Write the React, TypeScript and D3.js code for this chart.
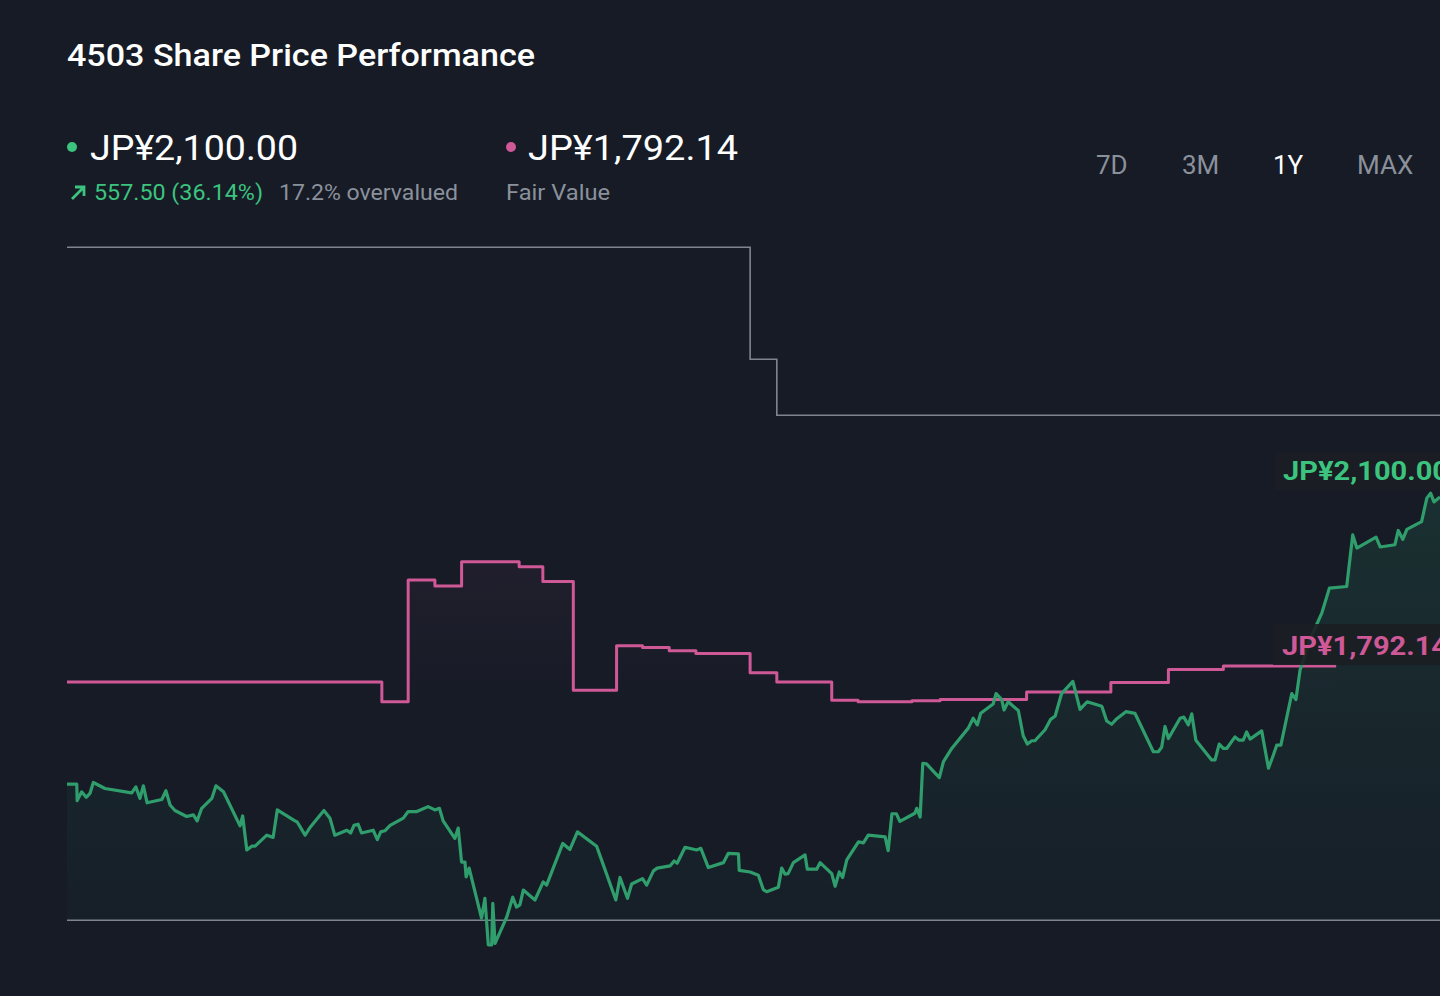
import { area, curveStepAfter, line, scaleLinear } from 'd3';

const width = 1440;
const height = 996;
const margin = { top: 222.5, right: 0, bottom: 59.8, left: 67 };

// day offsets within the 1Y window, and closing price (JP¥)
const priceDays = [
	0, 2.6, 2.7, 3.9, 5.1, 6.1, 7.0, 10.1, 17.2, 18.3,
	19.4, 20.3, 21.3, 25.2, 26.3, 27.4, 28.7, 31.8, 33.6, 34.6,
	35.8, 38.5, 39.6, 41.6, 46.0, 46.7, 47.8, 49.1, 50.0, 53.1,
	54.8, 55.9, 60.6, 61.2, 63.3, 64.6, 68.3, 69.9, 71.2, 74.4,
	75.4, 76.3, 77.4, 78.3, 81.4, 82.5, 83.4, 84.5, 85.9, 89.4,
	90.7, 93.0, 96.0, 97.8, 99.0, 100.0, 103.1, 104.0, 104.9, 105.8,
	106.1, 106.9, 110.2, 111.1, 112.0, 112.9, 113.2, 113.8, 116.9, 118.5,
	119.5, 120.4, 121.3, 124.4, 126.6, 127.5, 131.8, 133.7, 135.7, 140.8,
	142.1, 145.9, 147.0, 149.0, 150.1, 153.0, 154.1, 155.9, 156.9, 160.3,
	161.4, 162.2, 164.3, 167.4, 168.5, 170.5, 174.5, 175.8, 178.5, 178.7,
	181.6, 183.8, 185.1, 186.0, 189.1, 190.0, 190.9, 191.7, 193.1, 196.2,
	196.8, 199.3, 200.2, 203.3, 204.2, 205.3, 206.2, 207.3, 210.4, 211.7,
	213.0, 217.5, 218.3, 219.3, 220.5, 221.4, 225.4, 225.9, 226.8, 227.5,
	228.5, 231.9, 233.0, 235.2, 239.6, 240.9, 242.0, 242.9, 246.2, 247.0,
	248.5, 249.1, 250.2, 252.9, 254.2, 255.3, 256.5, 257.3, 260.0, 261.5,
	262.7, 264.4, 267.4, 269.3, 271.2, 275.1, 276.4, 277.7, 278.9, 281.5,
	283.9, 288.8, 290.1, 291.0, 291.9, 292.8, 295.9, 296.9, 298.1, 299.0,
	300.1, 304.3, 305.2, 306.3, 307.4, 308.3, 310.5, 311.6, 312.7, 313.6,
	314.5, 317.6, 319.4, 320.7, 321.6, 322.7, 325.6, 326.7, 327.8, 330.4,
	333.6, 335.6, 340.2, 341.8, 342.9, 348.0, 349.1, 353.0, 353.9, 355.1,
	356.2, 360.1, 361.5, 362.5, 363.4, 365,
];
const prices = [
	1577, 1577, 1547, 1563, 1553, 1560, 1580, 1569, 1561, 1572,
	1551, 1574, 1543, 1549, 1565, 1539, 1529, 1518, 1521, 1510,
	1533, 1551, 1574, 1563, 1501, 1519, 1457, 1464, 1464, 1484,
	1480, 1530, 1510, 1508, 1484, 1498, 1529, 1515, 1484, 1493,
	1488, 1502, 1504, 1488, 1493, 1476, 1490, 1492, 1502, 1515,
	1527, 1527, 1536, 1530, 1533, 1510, 1478, 1497, 1435, 1435,
	1408, 1424, 1333, 1369, 1284, 1284, 1360, 1287, 1335, 1371,
	1353, 1357, 1384, 1366, 1399, 1393, 1469, 1458, 1490, 1464,
	1439, 1366, 1407, 1369, 1395, 1405, 1393, 1419, 1424, 1428,
	1437, 1433, 1462, 1457, 1460, 1425, 1434, 1451, 1450, 1420,
	1417, 1411, 1385, 1381, 1389, 1424, 1413, 1414, 1434, 1448,
	1422, 1422, 1434, 1414, 1391, 1417, 1407, 1439, 1472, 1470,
	1484, 1481, 1456, 1523, 1523, 1509, 1524, 1533, 1517, 1615,
	1614, 1589, 1618, 1642, 1679, 1697, 1685, 1706, 1723, 1742,
	1731, 1712, 1727, 1711, 1665, 1650, 1656, 1656, 1676, 1695,
	1701, 1742, 1764, 1713, 1727, 1719, 1692, 1686, 1695, 1709,
	1706, 1636, 1636, 1644, 1682, 1660, 1697, 1699, 1685, 1705,
	1657, 1621, 1621, 1650, 1642, 1642, 1663, 1657, 1657, 1672,
	1659, 1674, 1606, 1630, 1648, 1648, 1742, 1731, 1785, 1840,
	1889, 1934, 1937, 2031, 2007, 2027, 2009, 2013, 2039, 2023,
	2041, 2055, 2098, 2107, 2091, 2100,
];

// fair value estimate, step changes
const fairDays = [
	0, 83.7, 90.7, 97.8, 104.9, 120.2, 126.5, 134.6, 146.1, 153.0, 160.1, 167.2,
	181.6, 188.7, 203.3, 210.3, 224.6, 232.1, 255.1, 277.5, 292.8, 307.4, 337.4,
];
const fairValues = [
	1763, 1727, 1949, 1938, 1982, 1973, 1946, 1748, 1829, 1826, 1820, 1815,
	1780, 1763, 1730, 1727, 1729, 1731, 1745, 1762, 1786, 1792.14, 1792.14,
];

// analyst target (grey steps) and the low reference line
const targetDays = [0, 181.6, 188.7, 365];
const targetValues = [2555, 2351, 2249, 2249];
const lowDays = [0, 365];
const lowValues = [1329, 1329];

const ranges = ['7D', '3M', '1Y', 'MAX'];
const rangeX = [1096, 1182, 1273, 1357];
const activeRange = '1Y';

const bg = '#161b26';
const green = '#2f9e6c';
const greenText = '#3cc47f';
const pink = '#cf5897';
const grey = '#7f8590';
const mutedText = '#8b919b';
const font = 'Roboto, "Noto Sans", sans-serif';

const App = () => {
	const innerHeight = height - margin.top - margin.bottom;
	const xScale = scaleLinear()
		.domain([0, 365])
		.range([margin.left, width - margin.right]);
	const yScale = scaleLinear()
		.domain([1300, 2600])
		.range([margin.top + innerHeight, margin.top]);

	const pricePts = priceDays.map((d, i) => [d, prices[i]] as [number, number]);
	const fairPts = fairDays.map((d, i) => [d, fairValues[i]] as [number, number]);
	const targetPts = targetDays.map((d, i) => [d, targetValues[i]] as [number, number]);
	const lowPts = lowDays.map((d, i) => [d, lowValues[i]] as [number, number]);

	const pathOf = line<[number, number]>()
		.x(d => xScale(d[0]))
		.y(d => yScale(d[1]));
	const stepOf = line<[number, number]>()
		.curve(curveStepAfter)
		.x(d => xScale(d[0]))
		.y(d => yScale(d[1]));

	const floor = yScale(lowValues[0]);
	const priceArea = area<[number, number]>()
		.x(d => xScale(d[0]))
		.y0(floor)
		.y1(d => yScale(d[1]));
	const fairArea = area<[number, number]>()
		.curve(curveStepAfter)
		.x(d => xScale(d[0]))
		.y0(floor)
		.y1(d => yScale(d[1]));

	const lastPrice = prices[prices.length - 1];
	const lastFair = fairValues[fairValues.length - 1];
	const priceLabelY = yScale(lastPrice) - 26;
	const fairLabelY = yScale(lastFair) - 21;

	return (
		<div style={{ position: 'fixed', inset: 0, background: bg }}>
			<svg width={width} height={height} style={{ display: 'block' }}>
				<defs>
					<linearGradient id="gFill" x1="0" y1="0" x2="0" y2="1">
						<stop offset="0%" stopColor={green} stopOpacity={0.16} />
						<stop offset="100%" stopColor={green} stopOpacity={0.02} />
					</linearGradient>
					<linearGradient id="pFill" x1="0" y1="0" x2="0" y2="1">
						<stop offset="0%" stopColor={pink} stopOpacity={0.06} />
						<stop offset="40%" stopColor={pink} stopOpacity={0} />
					</linearGradient>
				</defs>
				<rect width={width} height={height} fill={bg} />

				<text
					x={67}
					y={66}
					fill="#ffffff"
					fontFamily={font}
					fontSize={31}
					fontWeight={500}
					textLength={468}
					lengthAdjust="spacingAndGlyphs"
				>
					4503 Share Price Performance
				</text>

				{/* legend */}
				<circle cx={72} cy={147} r={5} fill={greenText} />
				<text
					x={90}
					y={160}
					fill="#ffffff"
					fontFamily={font}
					fontSize={35}
					textLength={208}
					lengthAdjust="spacingAndGlyphs"
				>
					JP¥2,100.00
				</text>
				<path
					d="M72,199 L84,187 M75,187 L84,187 L84,196"
					stroke={greenText}
					strokeWidth={2.8}
					fill="none"
				/>
				<text
					x={94}
					y={200}
					fill={greenText}
					fontFamily={font}
					fontSize={22}
					textLength={169}
					lengthAdjust="spacingAndGlyphs"
				>
					557.50 (36.14%)
				</text>
				<text
					x={279}
					y={200}
					fill={mutedText}
					fontFamily={font}
					fontSize={22}
					textLength={179}
					lengthAdjust="spacingAndGlyphs"
				>
					17.2% overvalued
				</text>
				<circle cx={511} cy={147} r={5} fill={pink} />
				<text
					x={528}
					y={160}
					fill="#ffffff"
					fontFamily={font}
					fontSize={35}
					textLength={210}
					lengthAdjust="spacingAndGlyphs"
				>
					JP¥1,792.14
				</text>
				<text
					x={506}
					y={200}
					fill={mutedText}
					fontFamily={font}
					fontSize={22}
					textLength={104}
					lengthAdjust="spacingAndGlyphs"
				>
					Fair Value
				</text>

				{ranges.map((r, i) => (
					<text
						key={r}
						x={rangeX[i]}
						y={174}
						fill={r === activeRange ? '#ffffff' : mutedText}
						fontFamily={font}
						fontSize={26}
					>
						{r}
					</text>
				))}

				{/* series */}
				<path d={fairArea(fairPts) || ''} fill="url(#pFill)" />
				<path d={priceArea(pricePts) || ''} fill="url(#gFill)" />
				<path d={stepOf(targetPts) || ''} fill="none" stroke={grey} strokeWidth={1.6} />
				<path d={pathOf(lowPts) || ''} fill="none" stroke={grey} strokeWidth={1.6} />
				<path
					d={stepOf(fairPts) || ''}
					fill="none"
					stroke={pink}
					strokeWidth={3}
					strokeLinejoin="round"
				/>
				<path
					d={pathOf(pricePts) || ''}
					fill="none"
					stroke={green}
					strokeWidth={3.2}
					strokeLinejoin="round"
				/>

				{/* end labels */}
				<rect x={1275} y={priceLabelY - 18} width={180} height={37} fill="#1b1e24" opacity={0.9} />
				<text
					x={1283}
					y={priceLabelY + 9}
					fill={greenText}
					fontFamily={font}
					fontSize={26}
					fontWeight={700}
					textLength={166}
					lengthAdjust="spacingAndGlyphs"
				>
					JP¥2,100.00
				</text>
				<rect x={1273} y={fairLabelY - 21} width={180} height={41} fill="#1b1e24" opacity={0.9} />
				<text
					x={1282}
					y={fairLabelY + 10}
					fill={pink}
					fontFamily={font}
					fontSize={26}
					fontWeight={700}
					textLength={166}
					lengthAdjust="spacingAndGlyphs"
				>
					JP¥1,792.14
				</text>
			</svg>
		</div>
	);
};

export default App;
